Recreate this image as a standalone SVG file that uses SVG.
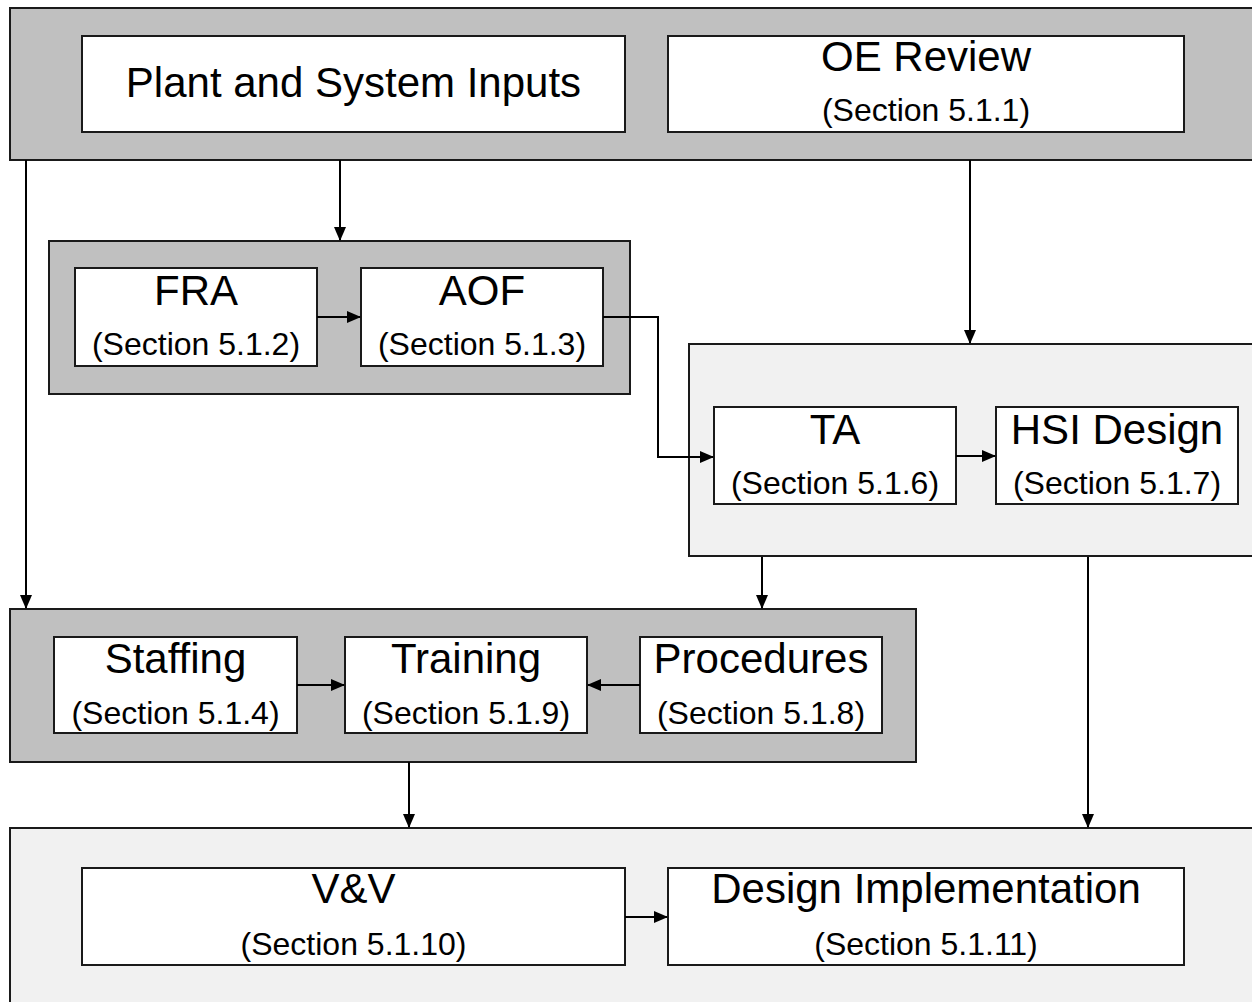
<svg xmlns="http://www.w3.org/2000/svg" width="1252" height="1002" viewBox="0 0 1252 1002">
<defs>
<marker id="ah" markerUnits="userSpaceOnUse" markerWidth="14" markerHeight="12" refX="13" refY="6" orient="auto">
<path d="M0,0 L14,6 L0,12 z" fill="#000"/>
</marker>
<style>
.dark{fill:#c0c0c0;stroke:#1a1a1a;stroke-width:2}
.light{fill:#f1f1f1;stroke:#1a1a1a;stroke-width:2}
.box{fill:#fff;stroke:#1a1a1a;stroke-width:2}
.t{font-family:"Liberation Sans",Arial,sans-serif;font-size:42px;fill:#000;text-anchor:middle}
.s{font-family:"Liberation Sans",Arial,sans-serif;font-size:32px;fill:#000;text-anchor:middle}
.c{fill:none;stroke:#000;stroke-width:2;marker-end:url(#ah)}
</style>
</defs>
<rect width="1252" height="1002" fill="#fff"/>
<g id="grp-top"><rect class="dark" x="10" y="8" width="1250" height="152"/></g>
<g id="grp-fra"><rect class="dark" x="49" y="241" width="581" height="153"/></g>
<g id="grp-ta"><rect class="light" x="689" y="344" width="570" height="212"/></g>
<g id="grp-staff"><rect class="dark" x="10" y="609" width="906" height="153"/></g>
<g id="grp-bottom"><rect class="light" x="10" y="828" width="1250" height="184"/></g>

<g id="plant"><rect class="box" x="82" y="36" width="543" height="96"/><text class="t" x="353.5" y="97">Plant and System Inputs</text></g>
<g id="oe"><rect class="box" x="668" y="36" width="516" height="96"/><text class="t" x="926" y="71">OE Review</text><text class="s" x="926" y="121">(Section 5.1.1)</text></g>
<g id="fra"><rect class="box" x="75" y="268" width="242" height="98"/><text class="t" x="196" y="305">FRA</text><text class="s" x="196" y="355">(Section 5.1.2)</text></g>
<g id="aof"><rect class="box" x="361" y="268" width="242" height="98"/><text class="t" x="482" y="305">AOF</text><text class="s" x="482" y="355">(Section 5.1.3)</text></g>
<g id="ta"><rect class="box" x="714" y="407" width="242" height="97"/><text class="t" x="835" y="444">TA</text><text class="s" x="835" y="494">(Section 5.1.6)</text></g>
<g id="hsi"><rect class="box" x="996" y="407" width="242" height="97"/><text class="t" x="1117" y="444">HSI Design</text><text class="s" x="1117" y="494">(Section 5.1.7)</text></g>
<g id="staffing"><rect class="box" x="54" y="637" width="243" height="96"/><text class="t" x="175.5" y="673">Staffing</text><text class="s" x="175.5" y="724">(Section 5.1.4)</text></g>
<g id="training"><rect class="box" x="345" y="637" width="242" height="96"/><text class="t" x="466" y="673">Training</text><text class="s" x="466" y="724">(Section 5.1.9)</text></g>
<g id="procedures"><rect class="box" x="640" y="637" width="242" height="96"/><text class="t" x="761" y="673">Procedures</text><text class="s" x="761" y="724">(Section 5.1.8)</text></g>
<g id="vv"><rect class="box" x="82" y="868" width="543" height="97"/><text class="t" x="353.5" y="903">V&amp;V</text><text class="s" x="353.5" y="955">(Section 5.1.10)</text></g>
<g id="di"><rect class="box" x="668" y="868" width="516" height="97"/><text class="t" x="926" y="903">Design Implementation</text><text class="s" x="926" y="955">(Section 5.1.11)</text></g>

<g id="connectors">
<path class="c" d="M26,160 V608"/>
<path class="c" d="M340,160 V240"/>
<path class="c" d="M970,160 V343"/>
<path class="c" d="M317,317 H360"/>
<path class="c" d="M603,317 H658 V457 H713"/>
<path class="c" d="M956,456 H995"/>
<path class="c" d="M762,557 V608"/>
<path class="c" d="M1088,557 V827"/>
<path class="c" d="M297,685 H344"/>
<path class="c" d="M640,685 H588"/>
<path class="c" d="M409,762 V827"/>
<path class="c" d="M625,917 H667"/>
</g>
</svg>
